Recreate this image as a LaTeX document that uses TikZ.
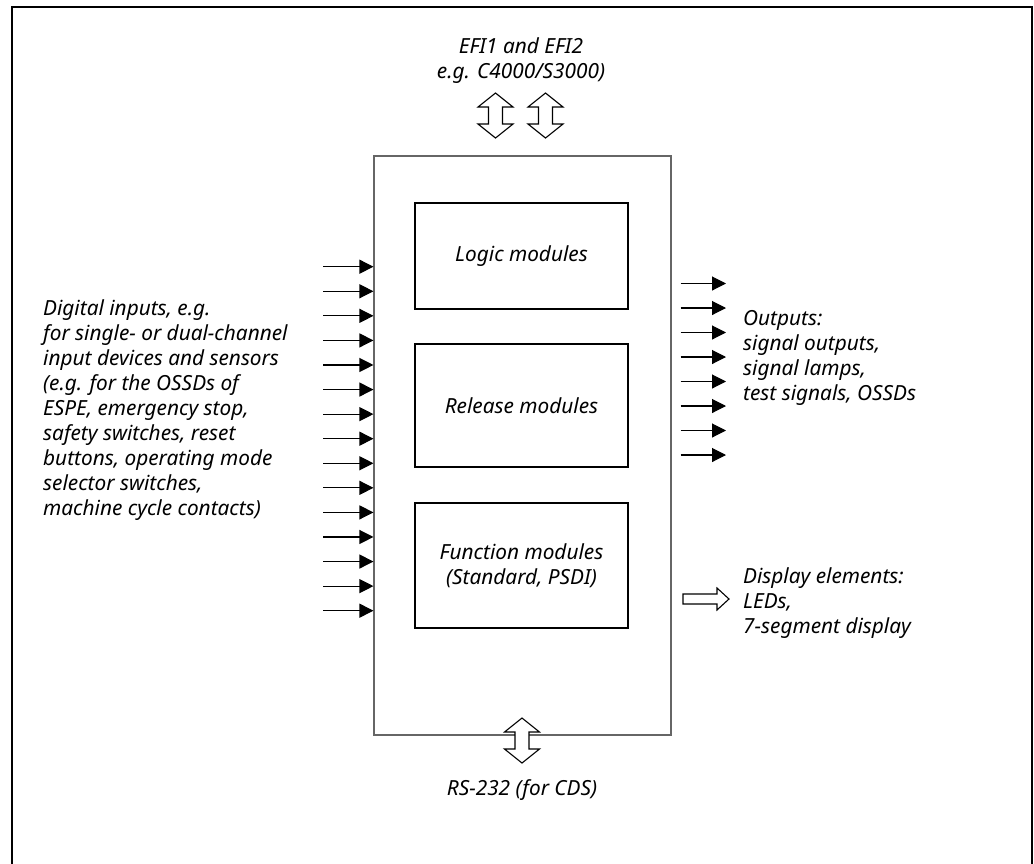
\documentclass[tikz,border=0pt]{standalone}
\usepackage{fontspec}
\setmainfont{Noto Sans}
\usetikzlibrary{arrows.meta}
\begin{document}
\begin{tikzpicture}[x=1pt,y=-1pt,
  lbl/.style={font=\itshape\fontsize{20.8}{25}\selectfont, inner sep=0pt},
  unitbox/.style={draw=black!60, line width=1.1pt},
  modbox/.style={draw=black, line width=1.6pt, minimum width=213pt,
    font=\itshape\fontsize{20.8}{25}\selectfont, align=center, inner sep=0pt},
  sig/.style={line width=1.1pt, -{Triangle[length=14pt,width=14pt]}},
  hollow/.style={draw=black, line width=1.1pt, fill=white},
  dblv/.pic={\draw[hollow] (0,-22.5) -- (17.5,-8.5) -- (7,-8.5) -- (7,8.5)
     -- (17.5,8.5) -- (0,22.5) -- (-17.5,8.5) -- (-7,8.5) -- (-7,-8.5)
     -- (-17.5,-8.5) -- cycle;},
  fatright/.pic={\draw[hollow] (-23,-5) -- (11,-5) -- (11,-11) -- (23,0)
     -- (11,11) -- (11,5) -- (-23,5) -- cycle;}
]
\useasboundingbox (0,0) rectangle (1034,863);

% outer frame, open at the bottom
\draw[line width=2.6pt] (12,870) -- (12,7) -- (1032,7) -- (1032,870);

% the controller unit with its three groups of modules
\node[unitbox, minimum width=297pt, minimum height=579pt, inner sep=0pt] (unit) at (522.5,445.5) {};
\node[modbox, minimum height=106pt] (logic) at (521.5,256) {Logic modules};
\node[modbox, minimum height=123pt] (release) at (521.5,405.5) {Release modules};
\node[modbox, minimum height=125pt] (func) at (521.5,565.5) {Function modules\\(Standard, PSDI)};

% EFI interfaces on top
\node[lbl, align=center, anchor=north] (efi) at (521,37.5) {EFI1 and EFI2\\e.g. C4000/S3000)};
\pic (efia) at (495.5,115.5) {dblv};
\pic (efib) at (545.5,115.5) {dblv};

% RS-232 interface below
\pic (rs) at (522,740.5) {dblv};
\node[lbl, anchor=base] (rstext) at (522,795) {RS-232 (for CDS)};

% digital inputs
\foreach \i in {0,...,14} {
  \coordinate (in\i) at (323,{266.7+\i*24.57});
  \draw[sig] (in\i) -- (in\i -| unit.west);
}
\node[lbl, align=left, anchor=north west] (intext) at (43,299.5)
  {Digital inputs, e.g.\\for single- or dual-channel\\input devices and sensors\\(e.g. for the OSSDs of\\ESPE, emergency stop,\\safety switches, reset\\buttons, operating mode\\selector switches,\\machine cycle contacts)};

% outputs
\foreach \i in {0,...,7} {
  \coordinate (outs\i) at (unit.east |- 0,{283.5+\i*24.5});
  \coordinate (oute\i) at (726,{283.5+\i*24.5});
  \draw[sig, shorten <=9pt] (outs\i) -- (oute\i);
}
\node[lbl, align=left, anchor=north west] (outtext) at (743,310)
  {Outputs:\\signal outputs,\\signal lamps,\\test signals, OSSDs};

% display elements
\pic (disp) at (706,599) {fatright};
\node[lbl, align=left, anchor=north west] (disptext) at (743,567)
  {Display elements:\\LEDs,\\7-segment display};
\end{tikzpicture}
\end{document}
